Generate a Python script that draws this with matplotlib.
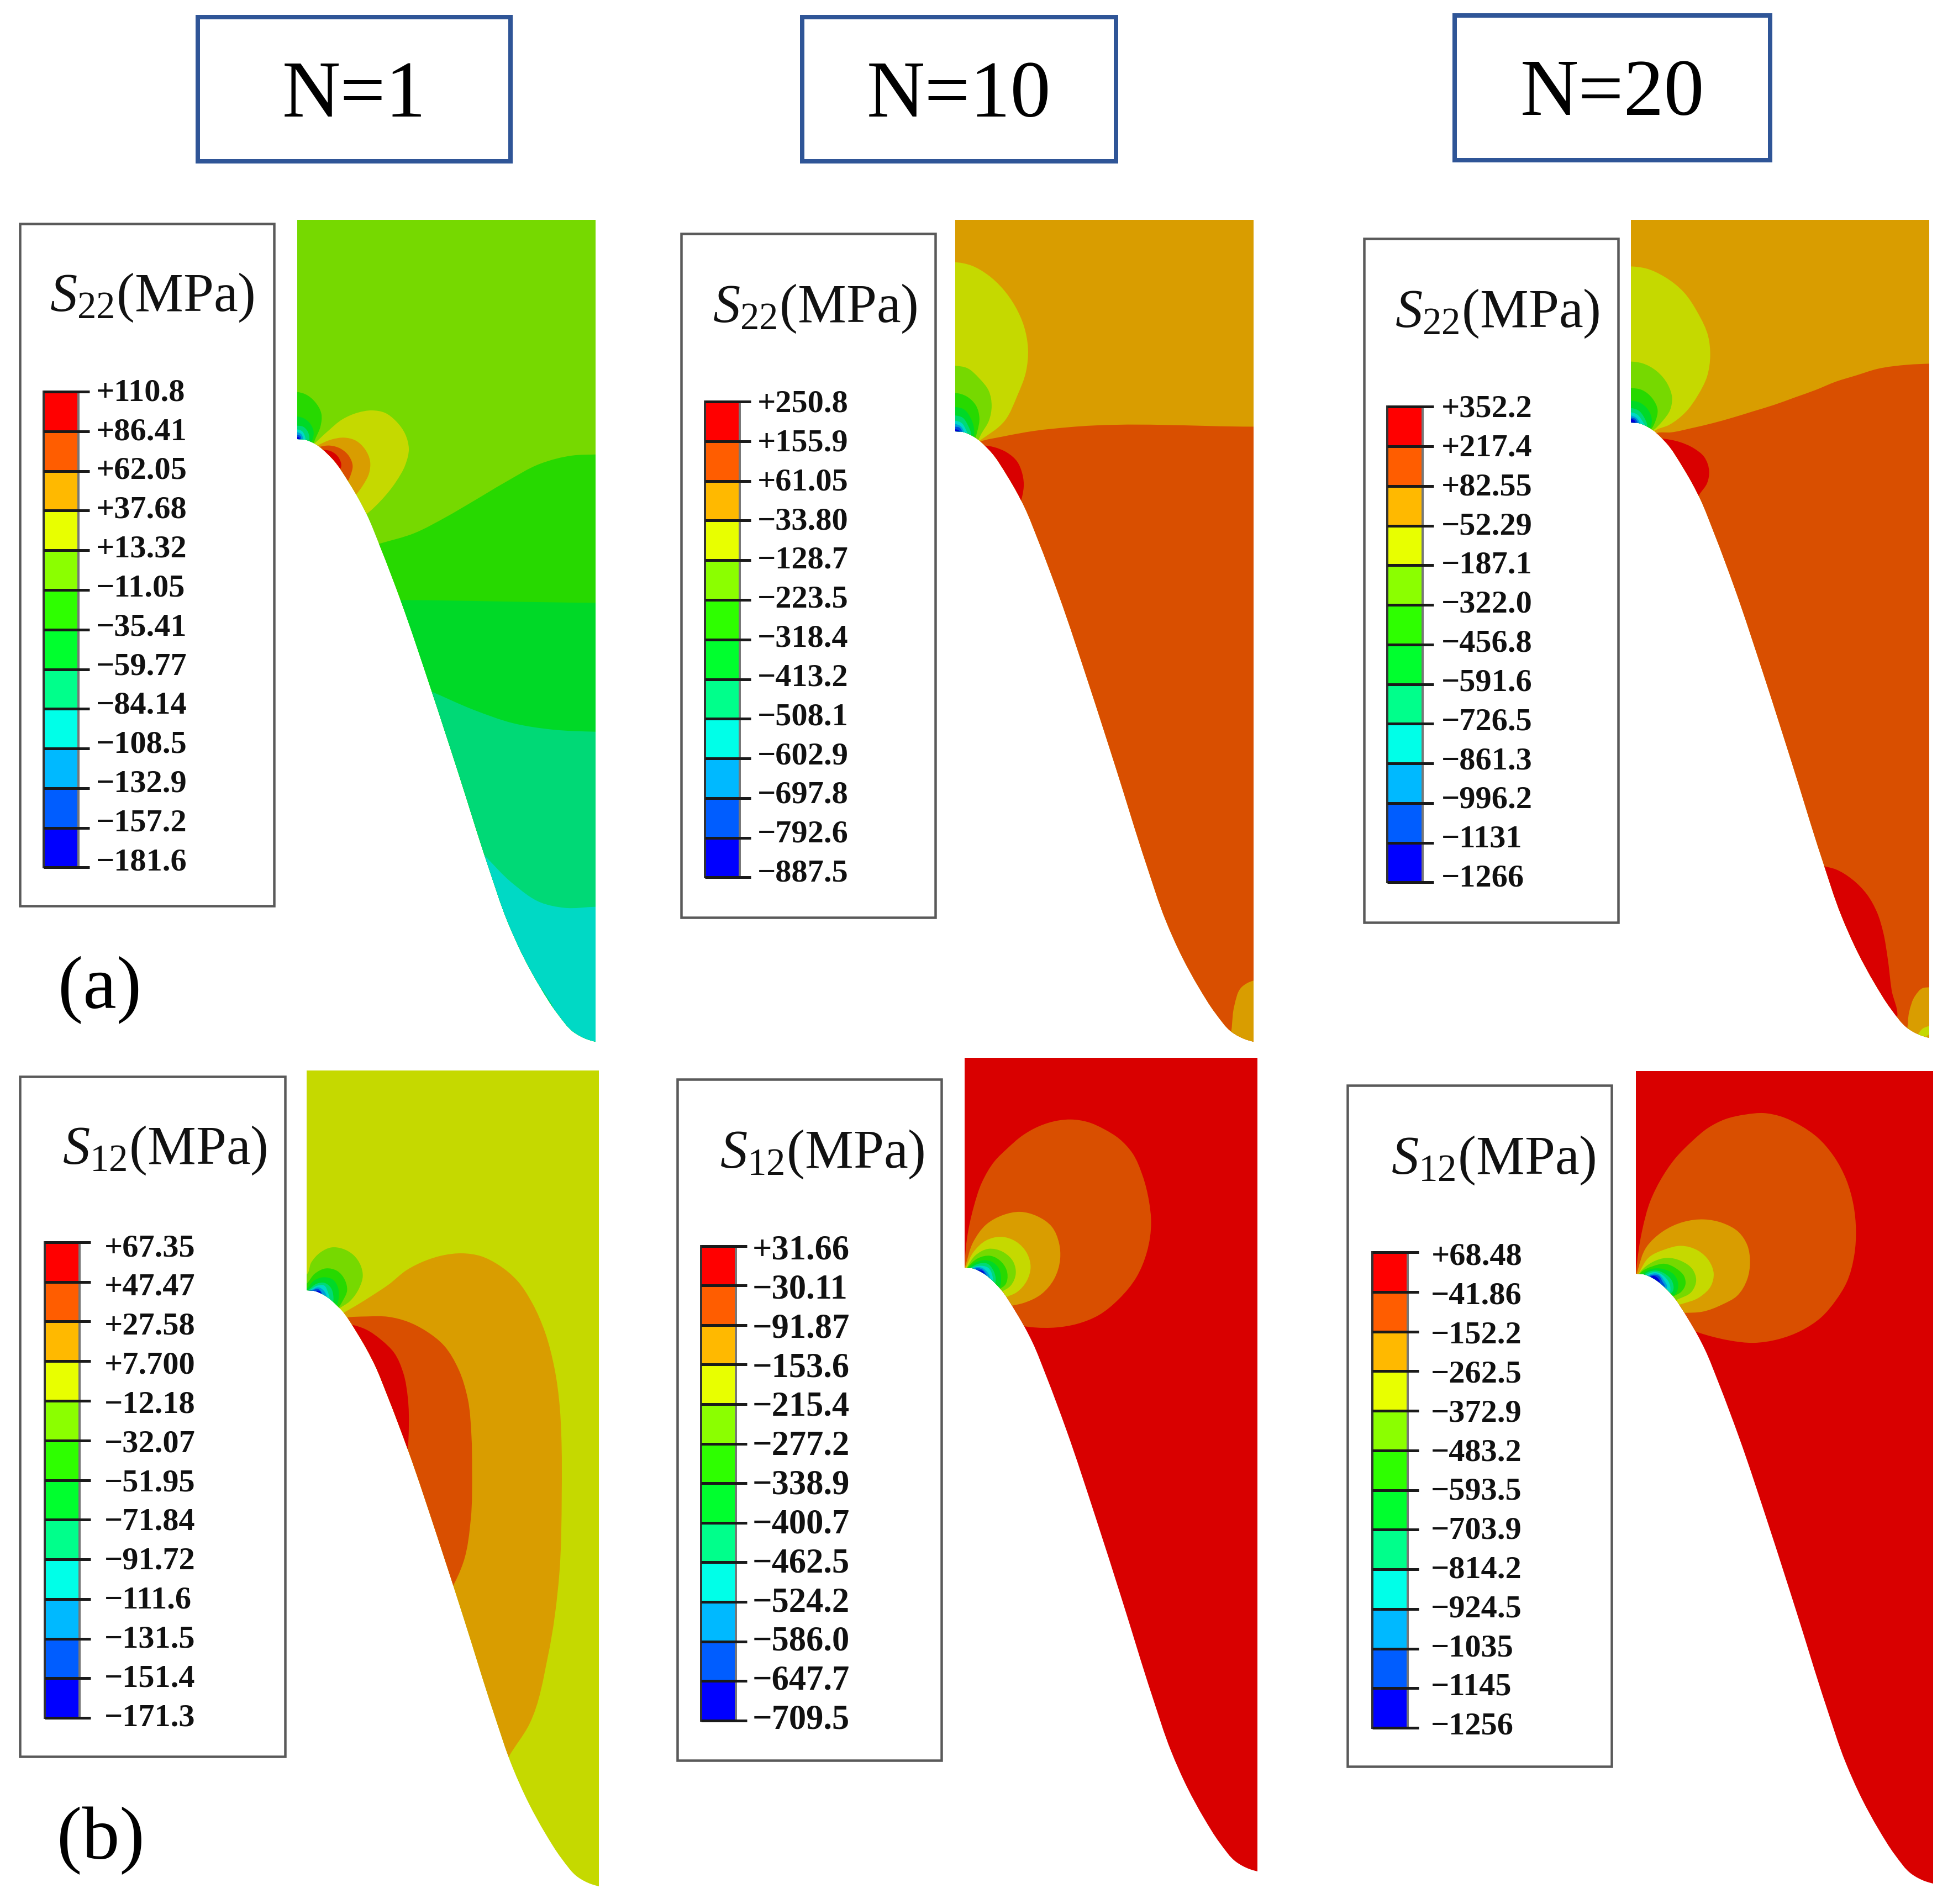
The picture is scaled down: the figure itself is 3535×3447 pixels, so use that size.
import numpy as np
import matplotlib
matplotlib.use('Agg')
import matplotlib.pyplot as plt
from matplotlib.path import Path
from matplotlib.patches import PathPatch, Rectangle

plt.rcParams['font.family'] = 'Liberation Serif'
plt.rcParams['mathtext.fontset'] = 'custom'
plt.rcParams['mathtext.rm'] = 'Liberation Serif'
plt.rcParams['mathtext.it'] = 'Liberation Serif:italic'

# legend values
s22_n1 = ['+110.8','+86.41','+62.05','+37.68','+13.32','\u221211.05','\u221235.41','\u221259.77','\u221284.14','\u2212108.5','\u2212132.9','\u2212157.2','\u2212181.6']
s22_n10 = ['+250.8','+155.9','+61.05','\u221233.80','\u2212128.7','\u2212223.5','\u2212318.4','\u2212413.2','\u2212508.1','\u2212602.9','\u2212697.8','\u2212792.6','\u2212887.5']
s22_n20 = ['+352.2','+217.4','+82.55','\u221252.29','\u2212187.1','\u2212322.0','\u2212456.8','\u2212591.6','\u2212726.5','\u2212861.3','\u2212996.2','\u22121131','\u22121266']
s12_n1 = ['+67.35','+47.47','+27.58','+7.700','\u221212.18','\u221232.07','\u221251.95','\u221271.84','\u221291.72','\u2212111.6','\u2212131.5','\u2212151.4','\u2212171.3']
s12_n10 = ['+31.66','\u221230.11','\u221291.87','\u2212153.6','\u2212215.4','\u2212277.2','\u2212338.9','\u2212400.7','\u2212462.5','\u2212524.2','\u2212586.0','\u2212647.7','\u2212709.5']
s12_n20 = ['+68.48','\u221241.86','\u2212152.2','\u2212262.5','\u2212372.9','\u2212483.2','\u2212593.5','\u2212703.9','\u2212814.2','\u2212924.5','\u22121035','\u22121145','\u22121256']
headers = ['N=1','N=10','N=20']

bar_colors = ['#FF0000','#FF5D00','#FFB900','#E8FF00','#8BFF00','#2EFF00','#00FF2E','#00FF8B','#00FFE8','#00B9FF','#005DFF','#0000FF']
# the contour plots use the same scale, dimmed
RED,ORG,AMB,YEL,LIM,GR1,GR2,GR3,CY1,BL1,BL2,BL3 = ['#D90000','#D94F00','#D99D00','#C5D900','#76D900','#27D900','#00D927','#00D976','#00D9C5','#009DD9','#004FD9','#0000D9']

# notch outline, px from the notch corner for a 539 x 1089 panel
outline = [(0,0),(14,1),(29,7),(62,34),(95,81),(125,135),(150,195),(187,292),(241,450),(290,600),(345,772),(380,872),(410,938),(440,992),(470,1038),(500,1072),(525,1085),(539,1089)]

R = 3535/1568.


def z(x0,y0,fx,fy,pts):
	return [(x0+a/fx,y0+b/fy) for a,b in pts]

def r(pts):
	return [(a*R,b*R) for a,b in pts]

def tangents(p,closed):
	n = len(p)
	t = []
	for i in range(n):
		if not closed and i == 0:
			t.append((p[1]-p[0])/np.hypot(*(p[1]-p[0])))
			continue
		if not closed and i == n-1:
			t.append((p[-1]-p[-2])/np.hypot(*(p[-1]-p[-2])))
			continue
		a = p[i]-p[i-1]
		b = p[(i+1)%n]-p[i]
		da = np.hypot(*a)
		db = np.hypot(*b)
		v = db*a/da+da*b/db
		t.append(v/np.hypot(*v))
	return t

def curve_to(p,closed):
	# bezier pieces that go through every point
	n = len(p)
	t = tangents(p,closed)
	verts = []
	codes = []
	for i in range(n if closed else n-1):
		j = (i+1)%n
		d = np.hypot(*(p[j]-p[i]))
		verts += [p[i]+t[i]*d/3,p[j]-t[j]*d/3,p[j]]
		codes += [Path.CURVE4,Path.CURVE4,Path.CURVE4]
	return verts,codes

def closed_path(pts):
	p = np.array(pts,dtype=float)
	verts,codes = curve_to(p,True)
	return Path([p[0]]+verts,[Path.MOVETO]+codes)

def shape_path(left,right,top,notch,bottom):
	sx = (right-left)/539.
	sy = (bottom-notch)/1089.
	p = np.array([(left+a*sx,notch+b*sy) for a,b in outline][::-1])
	v2,c2 = curve_to(p,False)
	verts = [(left,top),(right,top),p[0]]+v2+[(left,top)]
	codes = [Path.MOVETO,Path.LINETO,Path.LINETO]+c2+[Path.CLOSEPOLY]
	return Path(verts,codes)

def za1(pts): return z(0,380,1.4,1.032,pts)
def za1b(pts): return z(500,650,3,3,pts)
def za2(pts): return z(1700,380,2.613,2.613,pts)
def za3(pts): return z(2950,380,2.68,2.613,pts)
def za3b(pts): return z(2950,1500,2.68,3,pts)
def zb1(pts): return z(530,2200,3,3,pts)
def zb2(pts): return z(1720,1950,2.613,2.613,pts)
def zb3(pts): return z(2950,1930,2.68,2.613,pts)

regions_a1 = [
	(GR1,za1([(800,660),(960,625),(1050,605),(1130,575),(1200,545),(1280,510),(1370,475),(1450,460),(1510,458),(1700,458),(1700,2000),(700,2000)])),
	(GR2,za1([(800,730),(1015,730),(1510,735),(1700,735),(1700,2000),(700,2000)])),
	(GR3,za1([(950,860),(1090,900),(1200,935),(1300,960),(1400,972),(1510,976),(1700,976),(1700,2000),(700,2000)])),
	(CY1,za1([(1100,1110),(1225,1205),(1300,1260),(1370,1295),(1430,1305),(1510,1303),(1700,1303),(1700,2000),(800,2000)])),
	(GR3,za1([(1340,1440),(1365,1450),(1385,1470),(1402,1497),(1395,1510),(1340,1480)])),
	(YEL,za1b([(150,520),(205,465),(280,395),(360,330),(440,295),(520,282),(590,295),(650,340),(700,410),(720,490),(700,580),(650,670),(570,770),(490,845),(400,900),(200,700)])),
	(AMB,za1b([(170,500),(225,472),(300,440),(370,430),(430,445),(480,490),(510,560),(505,620),(470,690),(435,738),(380,800),(200,650)])),
	(ORG,za1b([(180,500),(235,480),(290,473),(350,490),(395,530),(415,585),(405,630),(390,665),(350,720),(200,600)])),
	(RED,za1b([(200,490),(255,495),(300,505),(340,540),(352,590),(345,605),(320,640),(200,560)])),
	(GR1,za1b([(80,182),(113,182),(160,195),(210,235),(245,300),(240,370),(215,430),(190,480),(80,470)])),
	(GR2,za1b([(80,315),(113,315),(150,325),(185,355),(203,400),(195,445),(170,480),(80,470)])),
	(GR3,za1b([(80,365),(113,365),(145,370),(170,395),(180,430),(165,480),(80,470)])),
	(CY1,za1b([(80,385),(113,385),(140,395),(155,420),(158,450),(80,470)])),
	(BL1,za1b([(80,400),(113,400),(135,410),(145,440),(80,470)])),
	(BL2,za1b([(80,415),(113,415),(130,420),(135,445),(80,470)])),
	(BL3,za1b([(80,425),(113,425),(125,430),(128,450),(80,470)])),
]

regions_a2 = [
	(ORG,za2([(100,1150),(190,1100),(300,1075),(450,1048),(620,1030),(1490,1028),(1700,1028),(1700,4000),(100,4000)])),
	(AMB,r([(1020,788),(1006,788),(997,793),(991,808),(989,825),(988,850),(1020,850)])),
	(RED,za2([(150,1100),(205,1115),(260,1125),(320,1150),(370,1195),(390,1240),(400,1300),(392,1360),(385,1385),(360,1440),(200,1300)])),
	(YEL,za2([(40,250),(75,250),(150,265),(230,310),(300,375),(360,460),(400,550),(420,660),(410,770),(370,880),(310,1000),(190,1095),(140,1130),(40,1100)])),
	(LIM,za2([(40,740),(75,740),(130,750),(190,800),(235,860),(248,930),(235,1000),(200,1060),(165,1120),(40,1100)])),
	(GR1,za2([(40,868),(75,868),(130,885),(175,930),(190,985),(180,1050),(155,1110),(40,1100)])),
	(GR2,za2([(40,935),(75,935),(115,945),(150,990),(165,1040),(155,1100),(40,1100)])),
	(GR3,za2([(40,975),(75,975),(110,985),(135,1020),(150,1070),(40,1100)])),
	(CY1,za2([(40,1000),(75,1000),(105,1010),(125,1040),(135,1080),(40,1100)])),
	(BL1,za2([(40,1015),(75,1015),(100,1025),(118,1060),(40,1100)])),
	(BL2,za2([(40,1028),(75,1028),(95,1032),(110,1065),(40,1100)])),
	(BL3,za2([(40,1040),(75,1040),(90,1044),(105,1070),(40,1100)])),
]

regions_a3 = [
	(ORG,za3([(60,1100),(130,1058),(200,1055),(300,1035),(400,1012),(500,985),(600,955),(700,925),(800,890),(900,855),(1000,815),(1100,785),(1200,755),(1350,735),(1453,730),(1700,725),(1700,4000),(60,4000)])),
	(RED,za3([(110,1080),(165,1085),(240,1100),(310,1130),(360,1170),(385,1240),(375,1295),(340,1345),(300,1400),(150,1250)])),
	(RED,za3b([(800,150),(935,205),(1000,225),(1080,280),(1150,360),(1200,460),(1230,570),(1250,700),(1270,880),(1295,1040),(1280,1080),(1000,900)])),
	(AMB,za3b([(1330,1160),(1345,1095),(1355,1000),(1385,910),(1420,870),(1453,865),(1650,865),(1650,1300),(1330,1300)])),
	(YEL,za3b([(1370,1160),(1395,1125),(1420,1090),(1453,1075),(1650,1075),(1650,1300),(1370,1300)])),
	(AMB,za3b([(1410,1160),(1430,1140),(1453,1120),(1650,1120),(1650,1300),(1410,1300)])),
	(YEL,za3([(-30,270),(5,270),(80,280),(170,320),(260,390),(330,490),(380,600),(390,690),(375,790),(330,880),(270,960),(190,1020),(125,1045),(80,1080),(-30,1060)])),
	(LIM,za3([(-30,720),(5,720),(60,728),(130,765),(185,830),(205,890),(195,950),(160,1000),(105,1050),(-30,1060)])),
	(GR1,za3([(-30,845),(5,845),(60,855),(110,895),(135,950),(125,1000),(95,1050),(-30,1060)])),
	(GR2,za3([(-30,905),(5,905),(50,915),(90,950),(107,1000),(90,1050),(-30,1060)])),
	(GR3,za3([(-30,940),(5,940),(40,950),(70,985),(85,1035),(-30,1060)])),
	(CY1,za3([(-30,960),(5,960),(35,970),(60,1000),(75,1030),(-30,1060)])),
	(BL1,za3([(-30,975),(5,975),(30,985),(50,1015),(-30,1060)])),
	(BL2,za3([(-30,985),(5,985),(25,990),(40,1015),(-30,1060)])),
	(BL3,za3([(-30,992),(5,992),(20,996),(30,1015),(-30,1060)])),
]

regions_b1 = [
	(AMB,zb1([(220,570),(265,540),(350,490),(430,440),(520,380),(620,300),(720,250),(820,220),(920,210),(1020,225),(1120,275),(1220,360),(1300,480),(1370,640),(1420,830),(1450,1050),(1458,1200)])+r([(451,1200),(449,1265),(440,1330),(425,1385),(408,1412),(395,1440),(300,1300),(240,1100)])),
	(ORG,zb1([(240,570),(285,560),(400,553),(520,555),(620,580),(720,630),(820,710),(900,840),(950,1000),(970,1200)])+r([(379,1180),(378,1220),(372,1255),(362,1277),(345,1300),(270,1150)])),
	(RED,zb1([(260,590),(305,595),(400,625),(480,680),(550,750),(600,860),(625,1000),(630,1150),(620,1285),(600,1350),(300,1000)])),
	(LIM,zb1([(40,340),(75,325),(100,260),(150,205),(210,178),(270,185),(330,220),(370,280),(380,330),(360,400),(310,470),(245,515),(200,560),(40,500)])),
	(GR1,zb1([(40,400),(75,375),(120,320),(180,292),(240,305),(285,360),(295,410),(270,470),(235,520),(40,500)])),
	(GR2,zb1([(40,440),(75,405),(120,355),(170,340),(220,355),(245,395),(250,440),(230,510),(40,500)])),
	(GR3,zb1([(50,430),(85,408),(130,375),(170,370),(205,395),(220,440),(215,490),(60,500)])),
	(CY1,zb1([(60,420),(90,410),(135,385),(170,385),(190,420),(200,480),(60,500)])),
	(BL1,zb1([(70,420),(100,410),(140,395),(170,415),(185,470),(60,500)])),
	(BL2,zb1([(80,415),(105,410),(140,405),(160,430),(170,460),(60,500)])),
	(BL3,zb1([(90,412),(115,415),(145,415),(160,445),(60,500)])),
]

regions_b2 = [
	(ORG,zb2([(60,1000),(68,880),(80,760),(110,620),(150,500),(210,400),(270,340),(340,280),(420,235),(510,208),(570,203),(650,215),(730,250),(800,295),(860,360),(910,470),(940,590),(950,690),(930,830),(880,950),(800,1050),(700,1130),(600,1170),(500,1187),(400,1187),(340,1180),(200,1150)])),
	(AMB,zb2([(50,960),(70,900),(110,780),(170,700),(250,655),(330,640),(410,660),(480,710),(515,790),(520,860),(490,960),(430,1030),(350,1070),(285,1085),(200,1100)])),
	(YEL,zb2([(55,950),(75,900),(110,830),(170,775),(240,758),(310,780),(365,840),(380,900),(360,970),(315,1020),(262,1045),(200,1080)])),
	(LIM,zb2([(60,940),(78,905),(120,845),(180,815),(250,830),(300,880),(310,930),(285,990),(240,1020),(180,1060)])),
	(GR1,zb2([(60,930),(80,905),(130,860),(190,848),(245,880),(270,930),(260,985),(235,1005),(180,1050)])),
	(GR2,zb2([(70,925),(85,905),(130,875),(180,870),(225,900),(240,950),(230,1005),(170,1040)])),
	(GR3,zb2([(80,915),(95,905),(135,885),(175,885),(205,920),(215,965),(205,1000),(170,1030)])),
	(CY1,zb2([(90,915),(105,905),(145,895),(180,905),(200,945),(200,985),(160,1020)])),
	(BL1,zb2([(95,915),(110,905),(145,903),(175,925),(190,965),(160,1010)])),
	(BL2,zb2([(105,915),(120,908),(150,912),(170,935),(180,960),(150,1000)])),
	(BL3,zb2([(115,915),(130,915),(155,922),(165,945),(140,990)])),
]

regions_b3 = [
	(ORG,zb3([(25,1040),(32,960),(60,780),(100,640),(150,540),(220,440),(300,360),(380,295),(460,255),(560,232),(650,225),(730,240),(830,285),(910,340),(990,430),(1050,540),(1085,660),(1097,780),(1090,890),(1050,1030),(1000,1110),(930,1190),(830,1255),(720,1295),(600,1312),(480,1300),(390,1280),(330,1262),(200,1200)])),
	(AMB,zb3([(25,1020),(38,970),(80,860),(160,785),(260,740),(360,728),(450,745),(530,790),(570,850),(583,930),(570,1010),(520,1090),(450,1130),(350,1165),(270,1170),(180,1170)])),
	(YEL,zb3([(30,1010),(48,975),(90,910),(170,870),(250,853),(330,875),(385,925),(407,985),(395,1040),(340,1095),(245,1130),(170,1150)])),
	(LIM,zb3([(35,1000),(52,975),(110,930),(180,910),(250,925),(305,965),(322,1015),(300,1070),(235,1105),(160,1130)])),
	(GR1,zb3([(40,1000),(55,978),(110,950),(170,938),(225,960),(265,1000),(270,1035),(250,1070),(215,1090),(150,1110)])),
	(GR2,zb3([(45,1000),(60,985),(120,960),(170,965),(215,990),(235,1035),(225,1075),(140,1100)])),
	(GR3,zb3([(60,1000),(75,985),(125,970),(170,985),(205,1020),(210,1065),(140,1090)])),
	(CY1,zb3([(70,1000),(85,988),(130,978),(170,1000),(195,1040),(195,1070),(130,1080)])),
	(BL1,zb3([(80,1000),(95,990),(135,985),(165,1015),(180,1050),(130,1070)])),
	(BL2,zb3([(90,1000),(105,992),(140,995),(160,1025),(170,1045),(125,1060)])),
	(BL3,zb3([(100,1000),(115,995),(135,1005),(145,1020),(120,1050)])),
]

# left,right,top,notch,bottom (px), base colour, regions
panels = [
	(538,1078,399,796,1887,LIM,regions_a1),
	(1729,2269,399,782,1887,AMB,regions_a2),
	(2952,3492,399,766,1880,AMB,regions_a3),
	(555,1084,1939,2337,3416,YEL,regions_b1),
	(1746,2276,1916,2296,3389,RED,regions_b2),
	(2961,3499,1940,2307,3411,RED,regions_b3),
]

# box, bar x0 x1 y0 y1, title x y, sub, labels, label x, label first y, last y, font size
legends = [
	((16,180,220,728),(35,63,315,697),(40,239),'22',s22_n1,77,315.5,692.5,42),
	((547,188,751,737),(566,594,323,705),(572,248),'22',s22_n10,608,324.5,701.5,42),
	((1095,192,1299,741),(1114,1142,327,709),(1120,252),'22',s22_n20,1157,328.5,705.5,42),
	((16,865,229,1411),(36,64,998,1380),(50,924),'12',s12_n1,84,1002.5,1379.5,42),
	((544,867,756,1414),(563,591,1001,1382),(578,927),'12',s12_n10,604,1004.5,1381.5,45),
	((1082,872,1294,1419),(1102,1130,1006,1388),(1117,932),'12',s12_n20,1149,1009.5,1386.5,42),
]

boxes = [(158.8,14,410,130),(644,14,896,130),(1168,13,1421,129)]

fig = plt.figure(figsize=(35.35,34.48),dpi=100)
ax = fig.add_axes([0,0,1,1])
ax.set_xlim(0,3535)
ax.set_ylim(3448,0)
ax.axis('off')

px = 72/100.

for left,right,top,notch,bottom,base,regions in panels:
	shape = PathPatch(shape_path(left,right,top,notch,bottom),fc=base,ec='none',lw=0)
	ax.add_patch(shape)
	for color,pts in regions:
		patch = PathPatch(closed_path(pts),fc=color,ec='none',lw=0)
		ax.add_patch(patch)
		patch.set_clip_path(shape)

for box,bar,title,sub,labels,lx,ly0,ly1,fs in legends:
	x0,y0,x1,y1 = [v*R for v in box]
	ax.add_patch(Rectangle((x0,y0),x1-x0,y1-y0,fc='white',ec='#5A5A5A',lw=4.5*px))
	bx0,bx1,by0,by1 = [v*R for v in bar]
	edges = np.linspace(by0,by1,13)
	label_y = np.linspace(ly0*R,ly1*R,13)
	for i in range(12):
		ax.add_patch(Rectangle((bx0,edges[i]),bx1-bx0,edges[i+1]-edges[i],fc=bar_colors[i],ec='none'))
	ax.plot([bx0,bx0],[by0,by1],color='#333333',lw=4*px)
	ax.plot([bx1,bx1],[by0,by1],color='#777777',lw=4*px)
	for i in range(13):
		ax.plot([bx0,bx1+20],[edges[i],edges[i]],color='#1A1A1A',lw=5*px,solid_capstyle='butt')
		ax.text(lx*R,label_y[i],labels[i],fontsize=fs,fontweight='bold',va='center',ha='left',color='#111111')
	ax.text(title[0]*R,title[1]*R,r'$\mathit{S}_{%s}$(MPa)' % sub,fontsize=71,va='center',ha='left',color='#111111')

for (x0,y0,x1,y1),h in zip(boxes,headers):
	x0,y0,x1,y1 = x0*R,y0*R,x1*R,y1*R
	ax.add_patch(Rectangle((x0,y0),x1-x0,y1-y0,fc='white',ec='#2F5597',lw=8*px))
	ax.text((x0+x1)/2,(y0+y1)/2+13,h,fontsize=105,va='center',ha='center',color='black')

ax.text(80*R,795*R,'(a)',fontsize=98,va='center',ha='center',color='black')
ax.text(81*R,1478*R,'(b)',fontsize=98,va='center',ha='center',color='black')

fig.savefig('out.png',dpi=100,facecolor='white')
